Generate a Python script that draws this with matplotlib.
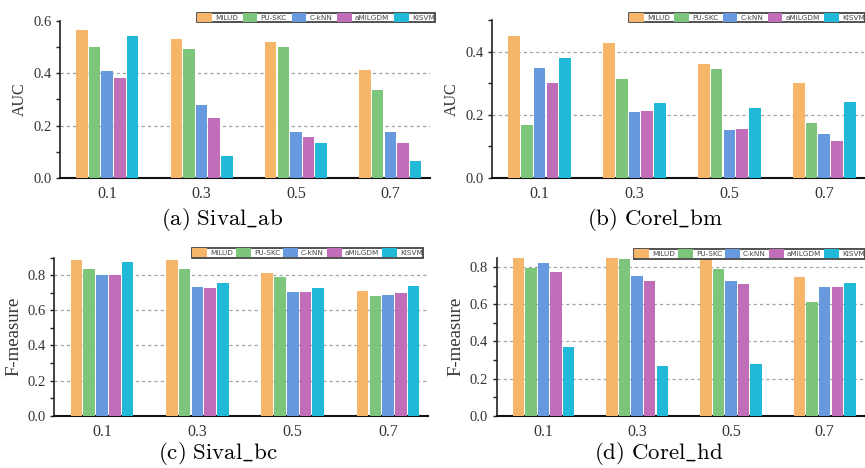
import numpy as np
import matplotlib
matplotlib.use("Agg")
import matplotlib.pyplot as plt
from matplotlib import font_manager

plt.rcParams['mathtext.fontset'] = 'cm'

methods = ['MILUD', 'PU-SKC', 'C-kNN', 'aMILGDM', 'KISVM']
colors = ['#F5B66A', '#7DC57A', '#6699DD', '#C06EBA', '#22B8D8']
ratios = ['0.1', '0.3', '0.5', '0.7']

# rows = methods, columns = ratios
sival_ab = [[0.565, 0.530, 0.519, 0.412],
            [0.500, 0.492, 0.500, 0.336],
            [0.409, 0.279, 0.176, 0.176],
            [0.382, 0.230, 0.155, 0.135],
            [0.542, 0.085, 0.135, 0.066]]
corel_bm = [[0.449, 0.427, 0.361, 0.301],
            [0.168, 0.314, 0.345, 0.175],
            [0.348, 0.209, 0.153, 0.140],
            [0.301, 0.213, 0.156, 0.118],
            [0.380, 0.238, 0.222, 0.241]]
sival_bc = [[0.889, 0.889, 0.815, 0.713],
            [0.837, 0.837, 0.792, 0.679],
            [0.800, 0.735, 0.707, 0.690],
            [0.803, 0.730, 0.707, 0.696],
            [0.877, 0.758, 0.730, 0.741]]
corel_hd = [[0.852, 0.852, 0.850, 0.744],
            [0.793, 0.841, 0.787, 0.610],
            [0.819, 0.750, 0.723, 0.691],
            [0.771, 0.723, 0.707, 0.691],
            [0.369, 0.267, 0.277, 0.712]]

W, H = 865.0, 468.0
panels = [
    # data, ylabel, label size, caption, ylim top, axes rect, caption xy, legend box (px: left, top, right)
    (sival_ab, 'AUC', 11.5, r'$\mathrm{(a)\ Sival\_ab}$', 0.6,
     [0.0694, 0.6197, 0.4276, 0.3363], (0.257, 0.531), (197, 12.5, 435)),
    (corel_bm, 'AUC', 11.5, r'$\mathrm{(b)\ Corel\_bm}$', 0.5,
     [0.569, 0.6197, 0.430, 0.3373], (0.757, 0.531), (629, 12.5, 865)),
    (sival_bc, 'F-measure', 13.5, r'$\mathrm{(c)\ Sival\_bc}$', 0.9,
     [0.0628, 0.1118, 0.4322, 0.3376], (0.252, 0.031), (192, 248, 423)),
    (corel_hd, 'F-measure', 13.5, r'$\mathrm{(d)\ Corel\_hd}$', 0.85,
     [0.574, 0.1118, 0.425, 0.3376], (0.762, 0.031), (634, 249, 865)),
]

names = {f.name for f in font_manager.fontManager.ttflist}
if 'Liberation Sans Narrow' in names:
    leg_prop = {'family': 'Liberation Sans Narrow', 'size': 6}
else:
    leg_prop = {'family': 'DejaVu Sans', 'size': 5.2}

fig = plt.figure(figsize=(8.65, 4.68), dpi=100)

x = np.arange(len(ratios))
pitch = 0.134
w = 0.122

for data, ylabel, lsize, caption, ytop, rect, cap_xy, lbox in panels:
    ax = fig.add_axes(rect)
    for i, (m, c) in enumerate(zip(methods, colors)):
        ax.bar(x + (i - 2) * pitch, data[i], width=w, color=c, label=m, zorder=3)
    ax.set_xlim(-0.5, 3.42)
    ax.set_ylim(0, ytop)
    ax.set_yticks(np.arange(0, ytop + 0.001, 0.2))
    ax.set_yticks(np.arange(0.1, ytop + 0.001, 0.2), minor=True)
    for t in ax.get_yticks():
        if 0 < t < ytop - 1e-6:
            ax.axhline(t, color='#a0a0a0', lw=0.9, ls=(0, (2.5, 2.5)), zorder=1)
    ax.set_yticklabels(['%.1f' % t for t in ax.get_yticks()],
                       family='Liberation Serif', fontsize=10.5, color='#333333')
    ax.set_xticks(x)
    ax.set_xticklabels(ratios, family='Liberation Serif', fontsize=11.5, color='#333333')
    ax.tick_params(axis='x', length=0, pad=6)
    ax.tick_params(axis='y', which='both', length=3, width=1, direction='out',
                   pad=3, color='#222222')
    for s in ['top', 'right']:
        ax.spines[s].set_visible(False)
    ax.spines['left'].set_linewidth(1.2)
    ax.spines['left'].set_color('#222222')
    ax.spines['bottom'].set_linewidth(1.5)
    ax.spines['bottom'].set_color('#111111')
    ax.set_ylabel(ylabel, family='Liberation Serif', fontsize=lsize, color='#333333',
                  labelpad=4)
    fig.text(cap_xy[0], cap_xy[1], caption, fontsize=16.5, ha='center', va='center')

    lx0, ltop, lx1 = lbox
    leg = ax.legend(loc='upper left',
                    bbox_to_anchor=(lx0 / W, 1 - (ltop + 10) / H, (lx1 - lx0) / W, 10 / H),
                    bbox_transform=fig.transFigure, ncol=5, mode='expand',
                    prop=leg_prop,
                    handlelength=2.0, handleheight=1.6, handletextpad=0.45,
                    columnspacing=0.1, borderpad=0.03, borderaxespad=0,
                    fancybox=False, framealpha=1, edgecolor='#333333')
    leg.get_frame().set_linewidth(1.2)
    leg.set_zorder(10)
    for t in leg.get_texts():
        t.set_color('#444444')

fig.savefig('out.png', dpi=100)
